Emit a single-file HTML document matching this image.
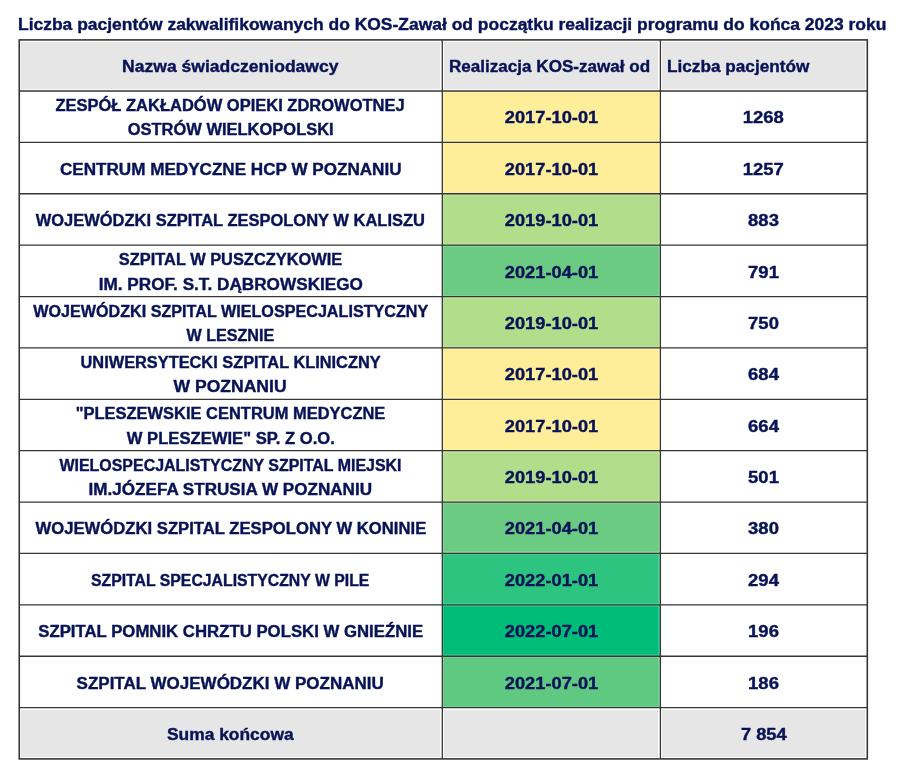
<!DOCTYPE html>
<html lang="pl">
<head>
<meta charset="utf-8">
<title>Liczba pacjentów zakwalifikowanych do KOS-Zawał</title>
<style>
html,body{margin:0;padding:0;background:#fff}
body{width:900px;height:780px;position:relative;overflow:hidden;
 font-family:"Liberation Sans",Arial,sans-serif;font-weight:bold;color:#071356;-webkit-text-stroke:0.4px #071356}
h1{position:absolute;left:18.3px;top:12px;margin:0;font-size:17.4px;line-height:24px;font-weight:bold;white-space:nowrap}
h1 span{display:inline-block;transform:scaleX(var(--s));transform-origin:0 50%}
table{position:absolute;left:19px;top:40px;border-collapse:separate;border-spacing:0;table-layout:fixed;
 width:848px;font-size:17.4px;line-height:24px}
td,th{padding:0;margin:0;border:0;font-weight:bold;vertical-align:top;background:#fff;box-sizing:border-box}
th,tfoot td{background:#E6E6E6;box-shadow:inset 0 0 0 2px #fcfcfc}
.ln{display:flex;justify-content:center;align-items:flex-start;white-space:nowrap;height:24px}
.ln span{display:block;flex:none;transform:scaleX(var(--s));transform-origin:50% 50%}
.ln.l{justify-content:flex-start;padding-left:6.7px}
.ln.l span{transform-origin:0 50%}
.y17,.g19,.g21a,.g21b,.g22a,.g22b{box-shadow:inset 0 0 0 1.5px rgba(255,255,255,.28)}
.y17{background:#FFEE99} .g19{background:#B2DD8B} .g21a{background:#6CCB83} .g21b{background:#5FC982} .g22a{background:#2CC47E} .g22b{background:#00BC79}
svg.grid{position:absolute;left:0;top:0;width:900px;height:780px;pointer-events:none}
</style>
</head>
<body>
<h1><span style="--s:1.004">Liczba pacjentów zakwalifikowanych do KOS-Zawał od początku realizacji programu do końca 2023 roku</span></h1>
<table>
<colgroup><col style="width:423px"><col style="width:218px"><col style="width:207px"></colgroup>
<thead><tr style="height:51px"><th style="padding-top:14px"><div class="ln"><span style="--s:1.0091">Nazwa świadczeniodawcy</span></div></th><th style="padding-top:14px"><div class="ln l"><span style="--s:0.9819">Realizacja KOS-zawał od</span></div></th><th style="padding-top:14px"><div class="ln l"><span style="--s:0.9886">Liczba pacjentów</span></div></th></tr></thead>
<tbody>
<tr style="height:51px"><td style="padding-top:2px"><div class="ln"><span style="--s:0.949">ZESPÓŁ ZAKŁADÓW OPIEKI ZDROWOTNEJ</span></div><div class="ln"><span style="--s:0.9477">OSTRÓW WIELKOPOLSKI</span></div></td><td class="y17" style="padding-top:14px"><div class="ln"><span style="--s:1.0506">2017-10-01</span></div></td><td style="padding-top:14px"><div class="ln"><span style="--s:1.0621">1268</span></div></td></tr>
<tr style="height:52px"><td style="padding-top:15px"><div class="ln"><span style="--s:0.983">CENTRUM MEDYCZNE HCP W POZNANIU</span></div></td><td class="y17" style="padding-top:15px"><div class="ln"><span style="--s:1.0506">2017-10-01</span></div></td><td style="padding-top:15px"><div class="ln"><span style="--s:1.0621">1257</span></div></td></tr>
<tr style="height:51px"><td style="padding-top:14px"><div class="ln"><span style="--s:0.9481">WOJEWÓDZKI SZPITAL ZESPOLONY W KALISZU</span></div></td><td class="g19" style="padding-top:14px"><div class="ln"><span style="--s:1.0506">2019-10-01</span></div></td><td style="padding-top:14px"><div class="ln"><span style="--s:1.0621">883</span></div></td></tr>
<tr style="height:52px"><td style="padding-top:2px"><div class="ln"><span style="--s:0.9424">SZPITAL W PUSZCZYKOWIE</span></div><div class="ln" style="margin-top:1px"><span style="--s:0.9876">IM. PROF. S.T. DĄBROWSKIEGO</span></div></td><td class="g21a" style="padding-top:15px"><div class="ln"><span style="--s:1.0506">2021-04-01</span></div></td><td style="padding-top:15px"><div class="ln"><span style="--s:1.0621">791</span></div></td></tr>
<tr style="height:51px"><td style="padding-top:2px"><div class="ln"><span style="--s:0.9286">WOJEWÓDZKI SZPITAL WIELOSPECJALISTYCZNY</span></div><div class="ln"><span style="--s:0.9272">W LESZNIE</span></div></td><td class="g19" style="padding-top:14px"><div class="ln"><span style="--s:1.0506">2019-10-01</span></div></td><td style="padding-top:14px"><div class="ln"><span style="--s:1.0621">750</span></div></td></tr>
<tr style="height:51px"><td style="padding-top:2px"><div class="ln"><span style="--s:0.9402">UNIWERSYTECKI SZPITAL KLINICZNY</span></div><div class="ln"><span style="--s:1.0089">W POZNANIU</span></div></td><td class="y17" style="padding-top:14px"><div class="ln"><span style="--s:1.0506">2017-10-01</span></div></td><td style="padding-top:14px"><div class="ln"><span style="--s:1.0621">684</span></div></td></tr>
<tr style="height:52px"><td style="padding-top:2px"><div class="ln"><span style="--s:0.9465">&quot;PLESZEWSKIE CENTRUM MEDYCZNE</span></div><div class="ln" style="margin-top:1px"><span style="--s:0.9563">W PLESZEWIE&quot; SP. Z O.O.</span></div></td><td class="y17" style="padding-top:15px"><div class="ln"><span style="--s:1.0506">2017-10-01</span></div></td><td style="padding-top:15px"><div class="ln"><span style="--s:1.0621">664</span></div></td></tr>
<tr style="height:51px"><td style="padding-top:2px"><div class="ln"><span style="--s:0.9172">WIELOSPECJALISTYCZNY SZPITAL MIEJSKI</span></div><div class="ln"><span style="--s:0.9822">IM.JÓZEFA STRUSIA W POZNANIU</span></div></td><td class="g19" style="padding-top:14px"><div class="ln"><span style="--s:1.0506">2019-10-01</span></div></td><td style="padding-top:14px"><div class="ln"><span style="--s:1.0621">501</span></div></td></tr>
<tr style="height:51px"><td style="padding-top:14px"><div class="ln"><span style="--s:0.9584">WOJEWÓDZKI SZPITAL ZESPOLONY W KONINIE</span></div></td><td class="g21a" style="padding-top:14px"><div class="ln"><span style="--s:1.0506">2021-04-01</span></div></td><td style="padding-top:14px"><div class="ln"><span style="--s:1.0621">380</span></div></td></tr>
<tr style="height:52px"><td style="padding-top:15px"><div class="ln"><span style="--s:0.9087">SZPITAL SPECJALISTYCZNY W PILE</span></div></td><td class="g22a" style="padding-top:15px"><div class="ln"><span style="--s:1.0506">2022-01-01</span></div></td><td style="padding-top:15px"><div class="ln"><span style="--s:1.0621">294</span></div></td></tr>
<tr style="height:51px"><td style="padding-top:14px"><div class="ln"><span style="--s:0.9638">SZPITAL POMNIK CHRZTU POLSKI W GNIEŹNIE</span></div></td><td class="g22b" style="padding-top:14px"><div class="ln"><span style="--s:1.0506">2022-07-01</span></div></td><td style="padding-top:14px"><div class="ln"><span style="--s:1.0621">196</span></div></td></tr>
<tr style="height:52px"><td style="padding-top:15px"><div class="ln"><span style="--s:0.9771">SZPITAL WOJEWÓDZKI W POZNANIU</span></div></td><td class="g21b" style="padding-top:15px"><div class="ln"><span style="--s:1.0506">2021-07-01</span></div></td><td style="padding-top:15px"><div class="ln"><span style="--s:1.0621">186</span></div></td></tr>
</tbody>
<tfoot><tr style="height:51px"><td style="padding-top:14px"><div class="ln"><span style="--s:0.9999">Suma końcowa</span></div></td><td></td><td style="padding-top:14px"><div class="ln"><span style="--s:1.0495">7 854</span></div></td></tr></tfoot>
</table>
<svg class="grid" viewBox="0 0 900 780" fill="none" stroke="#363636">
<rect x="19.25" y="39.9" width="848.05" height="719.00" stroke-width="1.6"/>
<path d="M19.25 91.00H867.3 M19.25 142.38H867.3 M19.25 193.77H867.3 M19.25 245.15H867.3 M19.25 296.54H867.3 M19.25 347.92H867.3 M19.25 399.31H867.3 M19.25 450.69H867.3 M19.25 502.08H867.3 M19.25 553.46H867.3 M19.25 604.85H867.3 M19.25 656.23H867.3 M19.25 707.62H867.3" stroke-width="1.3"/>
<path d="M442.3 39.9V758.90 M660.4 39.9V758.90" stroke-width="1.3"/>
</svg>
</body>
</html>
